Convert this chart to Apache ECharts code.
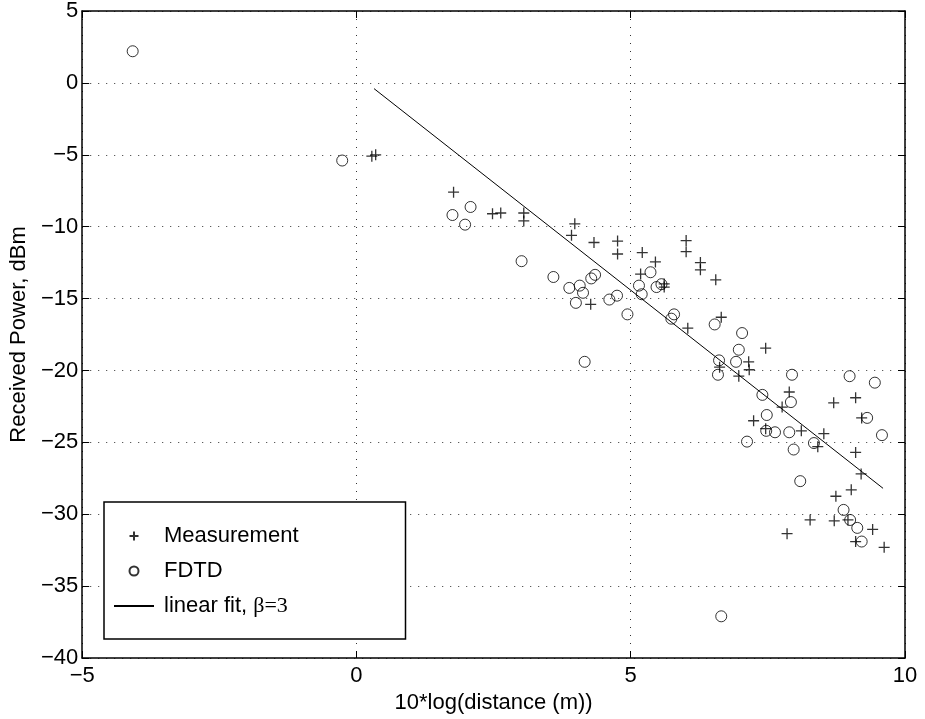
<!DOCTYPE html>
<html>
<head>
<meta charset="utf-8">
<script src="https://cdn.jsdelivr.net/npm/echarts@6/dist/echarts.min.js"></script>
<style>
html,body{margin:0;padding:0;background:#fff;}
#chart{width:925px;height:719px;}
</style>
</head>
<body>
<div id="chart"></div>
<script>
// ---- data ----
var xTicks = [-5, 0, 5, 10];
var yTicks = [5, 0, -5, -10, -15, -20, -25, -30, -35, -40];

var measurement = [
  [0.28,-5.1],[0.35,-5.0],[1.77,-7.6],[2.48,-9.1],[2.63,-9.05],
  [3.05,-9.05],[3.05,-9.6],[3.98,-9.8],[3.92,-10.6],[4.33,-11.1],
  [4.76,-11.0],[4.76,-11.9],[5.21,-11.8],[5.18,-13.3],[4.27,-15.4],
  [5.45,-12.45],[6.01,-10.97],[6.01,-11.74],[6.27,-12.5],[6.27,-13.0],
  [6.55,-13.7],[5.61,-13.98],[5.61,-14.2],[6.65,-16.3],[6.04,-17.06],
  [7.46,-18.45],[7.15,-19.4],[7.16,-19.95],[6.62,-19.77],[6.97,-20.4],
  [7.89,-21.5],[7.76,-22.55],[8.7,-22.25],[9.1,-21.9],[7.24,-23.5],
  [7.46,-24.05],[8.11,-24.2],[8.52,-24.4],[9.21,-23.3],[8.41,-25.3],
  [9.1,-25.7],[9.2,-27.2],[9.02,-28.3],[8.74,-28.75],[8.27,-30.4],
  [8.71,-30.46],[8.96,-30.4],[7.85,-31.35],[9.41,-31.06],[9.1,-31.9],
  [9.62,-32.3]
];

var fdtd = [
  [-4.08,2.2],[-0.26,-5.4],[1.75,-9.19],[2.08,-8.63],[1.98,-9.86],
  [3.01,-12.4],[3.59,-13.5],[3.88,-14.26],[4.07,-14.1],[4.13,-14.6],
  [4.0,-15.3],[4.28,-13.6],[4.35,-13.35],[4.61,-15.07],[4.75,-14.8],
  [4.94,-16.1],[4.16,-19.4],[5.36,-13.17],[5.15,-14.1],[5.2,-14.7],
  [5.47,-14.2],[5.56,-14.0],[5.79,-16.1],[5.74,-16.4],[6.53,-16.8],
  [7.03,-17.4],[6.97,-18.56],[6.92,-19.4],[6.61,-19.3],[6.59,-20.3],
  [7.94,-20.3],[8.99,-20.4],[9.45,-20.85],[7.4,-21.7],[7.92,-22.2],
  [7.48,-23.1],[9.31,-23.3],[7.47,-24.2],[7.63,-24.3],[7.89,-24.3],
  [9.58,-24.5],[7.12,-24.95],[7.97,-25.5],[8.34,-25.05],[8.09,-27.7],
  [8.88,-29.7],[9.0,-30.4],[9.13,-30.95],[9.21,-31.9],[6.65,-37.1]
];

var linearFit = [[0.32,-0.4],[9.6,-28.2]];

var seriesNames = ['Measurement', 'FDTD', 'linear fit, \u03b2=3'];
var xName = '10*log(distance (m))';
var yName = 'Received Power, dBm';

// ---- chart ----
var FONT = '"Liberation Sans", Arial, Helvetica, sans-serif';
function fmt(v){ return String(v).replace('-', '\u2212'); }

var chart = echarts.init(document.getElementById('chart'), null, {renderer:'canvas'});

var baseAxisLine = {show:true, onZero:false, lineStyle:{color:'#000', width:1.5}};
var tickIn = {show:true, inside:true, length:7, lineStyle:{color:'#000', width:1}};
var dotted = {show:true, lineStyle:{color:'#333', width:1, type:[1,7]}};

var option = {
  backgroundColor:'#fff',
  animation:false,
  textStyle:{fontFamily:FONT, color:'#000'},
  grid:{left:80, right:20, top:10, bottom:61, containLabel:false},
  xAxis:[{
    type:'value', min:xTicks[0], max:xTicks[xTicks.length-1], interval:5,
    position:'bottom',
    name:xName, nameLocation:'middle', nameGap:23,
    nameTextStyle:{fontFamily:FONT, fontSize:22, color:'#000'},
    axisLine:baseAxisLine, axisTick:tickIn,
    axisLabel:{formatter:fmt, fontFamily:FONT, fontSize:22, color:'#000', margin:7},
    splitLine:dotted
  },{
    type:'value', min:xTicks[0], max:xTicks[xTicks.length-1], interval:5,
    position:'top',
    axisLine:baseAxisLine, axisTick:tickIn, axisLabel:{show:false}, splitLine:{show:false}
  }],
  yAxis:[{
    type:'value', min:yTicks[yTicks.length-1], max:yTicks[0], interval:5,
    position:'left',
    name:yName, nameLocation:'middle', nameGap:52, nameRotate:90,
    nameTextStyle:{fontFamily:FONT, fontSize:22, color:'#000'},
    axisLine:baseAxisLine, axisTick:tickIn,
    axisLabel:{formatter:fmt, fontFamily:FONT, fontSize:22, color:'#000', margin:4},
    splitLine:dotted
  },{
    type:'value', min:yTicks[yTicks.length-1], max:yTicks[0], interval:5,
    position:'right',
    axisLine:baseAxisLine, axisTick:tickIn, axisLabel:{show:false}, splitLine:{show:false}
  }],
  legend:{
    orient:'vertical', left:104, top:502,
    padding:[23,107,22,9],
    itemWidth:40, itemHeight:9, itemGap:13,
    backgroundColor:'#fff',
    borderColor:'#000', borderWidth:1.5, borderRadius:0,
    selectedMode:false,
    textStyle:{fontFamily:FONT, fontSize:22, color:'#000', padding:[0,0,0,5],
      rich:{b:{fontFamily:'"Liberation Serif", "Times New Roman", serif', fontSize:22, color:'#000'}}},
    formatter:function(name){
      if(name === seriesNames[2]) return 'linear fit, {b|\u03b2=3}';
      return name;
    },
    data:[
      {name:seriesNames[0]},
      {name:seriesNames[1]},
      {name:seriesNames[2], itemStyle:{opacity:0, color:'rgba(0,0,0,0)', borderColor:'rgba(0,0,0,0)'}}
    ]
  },
  series:[{
    name:seriesNames[0], type:'scatter', data:measurement,
    symbol:'path://M5,0L5,10M0,5L10,5', symbolSize:11,
    itemStyle:{color:'rgba(0,0,0,0)', borderColor:'#000', borderWidth:1.3},
    emphasis:{disabled:true}, silent:true, z:3
  },{
    name:seriesNames[1], type:'scatter', data:fdtd,
    symbol:'circle', symbolSize:11,
    itemStyle:{color:'rgba(0,0,0,0)', borderColor:'#000', borderWidth:1},
    emphasis:{disabled:true}, silent:true, z:3
  },{
    name:seriesNames[2], type:'line', data:linearFit,
    symbol:'none', showSymbol:false,
    lineStyle:{color:'#000', width:1},
    itemStyle:{color:'#000'},
    emphasis:{disabled:true}, silent:true, z:2
  }]
};
chart.setOption(option);
</script>
</body>
</html>
